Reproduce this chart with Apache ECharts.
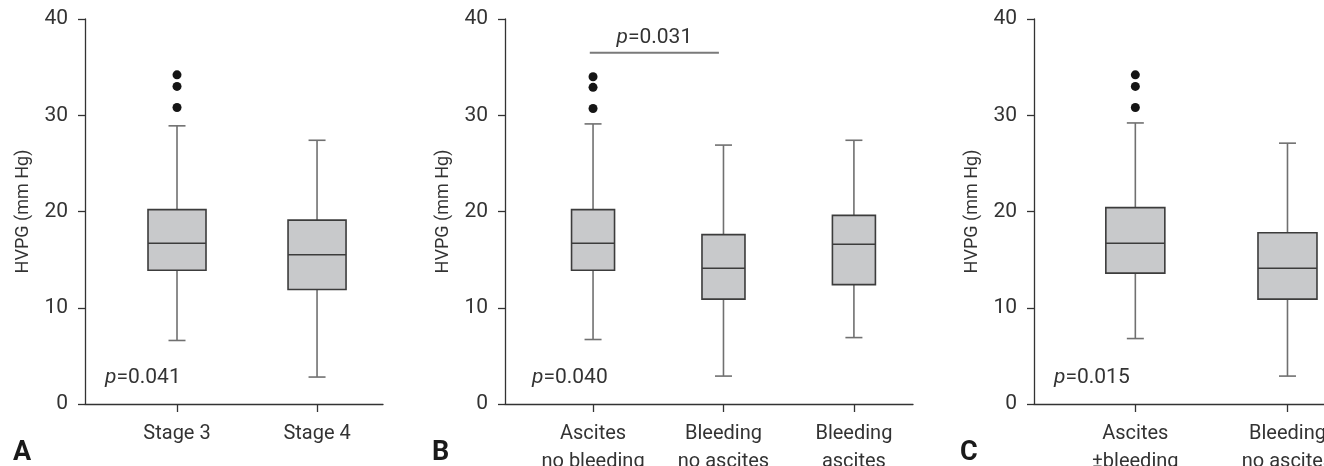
<!DOCTYPE html>
<html>
<head>
<meta charset="utf-8">
<script src="https://cdn.jsdelivr.net/npm/echarts@6/dist/echarts.min.js"></script>
<style>
html,body{margin:0;padding:0;background:#fff;}
#chart{width:1324px;height:466px;}
</style>
</head>
<body>
<div id="chart"></div>
<script>
// ---------- data ----------
const yTicks = [0, 10, 20, 30, 40];
const yTitle = 'HVPG (mm Hg)';

const catsA = ['Stage 3', 'Stage 4'];
// [min, Q1, median, Q3, max]
const boxA = [[6.6, 13.9, 16.7, 20.2, 28.9], [2.8, 11.9, 15.5, 19.1, 27.4]];
const outA = [30.8, 33.0, 34.2];           // outliers of group 0
const pA = '0.041';

const catsB = ['Ascites\nno bleeding', 'Bleeding\nno ascites', 'Bleeding\nascites'];
const boxB = [[6.7, 13.9, 16.7, 20.2, 29.1], [2.9, 10.9, 14.1, 17.6, 26.9], [6.9, 12.4, 16.6, 19.6, 27.4]];
const outB = [30.7, 32.9, 34.0];
const pB = '0.040';
const pairB = '0.031';       // comparison between group 0 and group 1
const pairLevelB = 36.5;

const catsC = ['Ascites\n\u00b1bleeding', 'Bleeding\nno ascites'];
const boxC = [[6.8, 13.6, 16.7, 20.4, 29.2], [2.9, 10.9, 14.1, 17.8, 27.1]];
const outC = [30.8, 33.0, 34.2];
const pC = '0.015';

const panelLetters = ['A', 'B', 'C'];

// ---------- style ----------
const FONT = "Roboto, 'DejaVu Sans Condensed', sans-serif";
const TXT = '#333';
const AX = '#333';

const chart = echarts.init(document.getElementById('chart'), null, {renderer: 'canvas'});

function toBoxData(box) { return box.map((b, i) => [i, ...b]); }
function toOutData(out) { return out.map(v => [0, v]); }

function makeRender(boxW, capW) {
  return function (params, api) {
    const x = api.value(0);
    const lo = api.coord([x, api.value(1)]);
    const q1 = api.coord([x, api.value(2)]);
    const md = api.coord([x, api.value(3)]);
    const q3 = api.coord([x, api.value(4)]);
    const hi = api.coord([x, api.value(5)]);
    const wStyle = {stroke: '#707070', lineWidth: 1.6};
    const bStyle = {fill: '#c8c9cb', stroke: '#3c3c3c', lineWidth: 1.6};
    return {
      type: 'group',
      children: [
        {type: 'line', shape: {x1: lo[0], y1: lo[1], x2: hi[0], y2: hi[1]}, style: wStyle},
        {type: 'line', shape: {x1: lo[0] - capW / 2, y1: lo[1], x2: lo[0] + capW / 2, y2: lo[1]}, style: wStyle},
        {type: 'line', shape: {x1: hi[0] - capW / 2, y1: hi[1], x2: hi[0] + capW / 2, y2: hi[1]}, style: wStyle},
        {type: 'rect', shape: {x: q3[0] - boxW / 2, y: q3[1], width: boxW, height: q1[1] - q3[1]}, style: bStyle},
        {type: 'line', shape: {x1: md[0] - boxW / 2, y1: md[1], x2: md[0] + boxW / 2, y2: md[1]}, style: {stroke: '#3c3c3c', lineWidth: 1.6}}
      ]
    };
  };
}

const grids = [
  {left: 85, top: 19, width: 298, bottom: 62, containLabel: false, outerBoundsMode: 'none'},
  {left: 505, top: 19, width: 408, bottom: 62, containLabel: false, outerBoundsMode: 'none'},
  {left: 1034, top: 19, width: 290, bottom: 62, containLabel: false, outerBoundsMode: 'none'}
];
const xRanges = [[-0.657, 1.471], [-0.675, 2.453], [-0.666, 1.24]];
const cats = [catsA, catsB, catsC];
const boxWidths = [58, 43, 59];

const xAxes = cats.map((c, i) => ({
  type: 'value', gridIndex: i, min: xRanges[i][0], max: xRanges[i][1],
  splitLine: {show: false},
  axisLine: {show: true, onZero: false, lineStyle: {color: AX, width: 1.3}},
  axisTick: {show: true, length: 8, customValues: c.map((_, k) => k), lineStyle: {color: AX, width: 1.3}},
  axisLabel: {
    show: true, customValues: c.map((_, k) => k), margin: 16,
    formatter: v => c[Math.round(v)] || '',
    color: TXT, fontFamily: FONT, fontSize: 20, lineHeight: 28
  }
}));

const yAxes = cats.map((c, i) => ({
  type: 'value', gridIndex: i, min: 0, max: 40, interval: 10,
  name: yTitle, nameLocation: 'middle', nameGap: 53,
  nameTextStyle: {color: TXT, fontFamily: FONT, fontSize: 18},
  splitLine: {show: false},
  axisLine: {show: true, onZero: false, lineStyle: {color: AX, width: 1.3}},
  axisTick: {show: true, length: 7, lineStyle: {color: AX, width: 1.3}},
  axisLabel: {color: TXT, fontFamily: FONT, fontSize: 21, margin: 17,
    formatter: v => yTicks.indexOf(v) >= 0 ? String(v) : ''}
}));

const boxes = [boxA, boxB, boxC];
const outs = [outA, outB, outC];
const series = [];
boxes.forEach((b, i) => {
  series.push({
    type: 'custom', xAxisIndex: i, yAxisIndex: i,
    renderItem: makeRender(boxWidths[i], 17),
    encode: {x: 0, y: [1, 2, 3, 4, 5]},
    data: toBoxData(b), silent: true, z: 2
  });
  series.push({
    type: 'scatter', xAxisIndex: i, yAxisIndex: i,
    symbol: 'circle', symbolSize: 9,
    itemStyle: {color: '#151515', opacity: 1},
    data: toOutData(outs[i]), silent: true, z: 3
  });
});
// pairwise comparison bracket in panel B
series.push({
  type: 'line', xAxisIndex: 1, yAxisIndex: 1,
  data: [[-0.025, pairLevelB], [0.965, pairLevelB]],
  symbol: 'none', lineStyle: {color: '#7a7a7a', width: 2}, silent: true,
  markPoint: {
    symbol: 'circle', symbolSize: 0,
    data: [{coord: [0.47, pairLevelB], value: pairB}],
    label: {
      show: true, position: 'top', distance: 4,
      formatter: '{i|p}=' + pairB,
      color: TXT, fontFamily: FONT, fontSize: 21,
      rich: {i: {fontStyle: 'italic', color: TXT, fontFamily: FONT, fontSize: 21}}
    }
  }
});

const pVals = [pA, pB, pC];
const pLeft = [105, 532, 1054];
const letterLeft = [13, 432, 960];
const graphic = [];
pVals.forEach((p, i) => {
  graphic.push({
    type: 'text', left: pLeft[i], top: 367,
    style: {
      text: '{i|p}=' + p, fill: TXT, font: '21px ' + FONT,
      rich: {i: {fontStyle: 'italic', fill: TXT, fontFamily: FONT, fontSize: 21}}
    }
  });
  graphic.push({
    type: 'text', left: letterLeft[i], top: 440,
    style: {text: panelLetters[i], fill: '#1a1a1a', font: 'bold 27px ' + FONT}
  });
});

chart.setOption({
  animation: false,
  backgroundColor: '#fff',
  grid: grids,
  xAxis: xAxes,
  yAxis: yAxes,
  series: series,
  graphic: graphic
});
</script>
</body>
</html>
